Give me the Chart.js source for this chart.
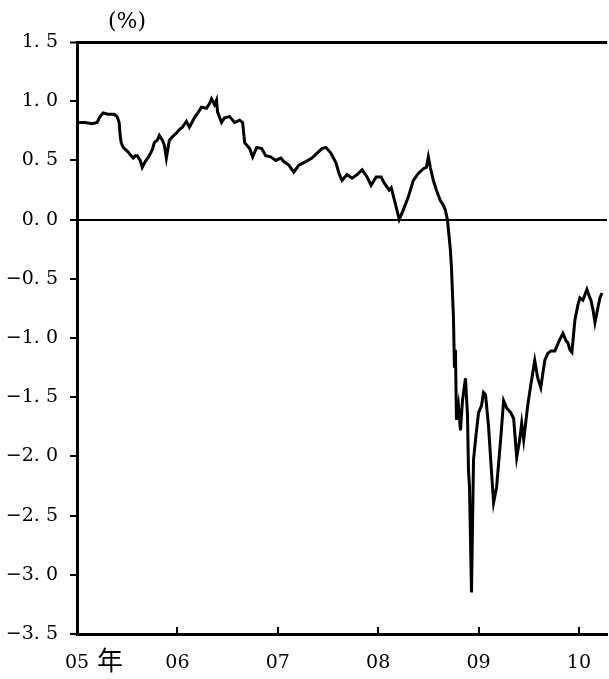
<!DOCTYPE html>
<html>
<head>
<meta charset="utf-8">
<script src="https://cdn.jsdelivr.net/npm/chart.js@4.4.1/dist/chart.umd.min.js"></script>
<style>
  html, body { margin: 0; padding: 0; background: #fff; }
  #chart { display: block; }
</style>
</head>
<body>
<canvas id="chart" width="609" height="679"></canvas>
<script>
// decimal years of each reading
const dates = [
  2005.00, 2005.08, 2005.15, 2005.20, 2005.23, 2005.26, 2005.31, 2005.37, 2005.40, 2005.42,
  2005.43, 2005.44, 2005.46, 2005.51, 2005.54, 2005.56, 2005.58, 2005.60, 2005.63, 2005.65,
  2005.68, 2005.72, 2005.75, 2005.77, 2005.80, 2005.82, 2005.85, 2005.87, 2005.89, 2005.92,
  2005.95, 2005.99, 2006.02, 2006.05, 2006.09, 2006.12, 2006.17, 2006.21, 2006.24, 2006.29,
  2006.32, 2006.34, 2006.37, 2006.39, 2006.40, 2006.44, 2006.47, 2006.52, 2006.57, 2006.62,
  2006.65, 2006.67, 2006.72, 2006.75, 2006.79, 2006.84, 2006.88, 2006.93, 2006.98, 2007.03,
  2007.06, 2007.11, 2007.16, 2007.21, 2007.28, 2007.34, 2007.39, 2007.44, 2007.48, 2007.53,
  2007.58, 2007.61, 2007.64, 2007.69, 2007.74, 2007.79, 2007.84, 2007.89, 2007.93, 2007.98,
  2008.03, 2008.06, 2008.11, 2008.13, 2008.17, 2008.21, 2008.25, 2008.30, 2008.35, 2008.40,
  2008.45, 2008.48, 2008.50, 2008.52, 2008.55, 2008.58, 2008.62, 2008.65, 2008.67, 2008.69,
  2008.71, 2008.72, 2008.73, 2008.75, 2008.76, 2008.77, 2008.78, 2008.80, 2008.82, 2008.84,
  2008.87, 2008.89, 2008.90, 2008.91, 2008.93, 2008.95, 2008.97, 2009.00, 2009.03, 2009.05,
  2009.07, 2009.10, 2009.13, 2009.15, 2009.18, 2009.22, 2009.25, 2009.28, 2009.32, 2009.35,
  2009.38, 2009.41, 2009.43, 2009.45, 2009.49, 2009.52, 2009.56, 2009.59, 2009.62, 2009.66,
  2009.69, 2009.72, 2009.76, 2009.80, 2009.84, 2009.87, 2009.89, 2009.91, 2009.93, 2009.96,
  2009.99, 2010.01, 2010.04, 2010.08, 2010.10, 2010.12, 2010.14, 2010.16, 2010.19, 2010.21,
  2010.23
];

// percent values
const values = [
  0.82, 0.82, 0.81, 0.82, 0.87, 0.90, 0.89, 0.89, 0.87, 0.82,
  0.71, 0.65, 0.61, 0.57, 0.54, 0.52, 0.54, 0.54, 0.50, 0.44,
  0.49, 0.54, 0.59, 0.65, 0.67, 0.71, 0.67, 0.63, 0.52, 0.67,
  0.70, 0.73, 0.76, 0.78, 0.83, 0.78, 0.86, 0.91, 0.95, 0.94,
  0.98, 1.02, 0.97, 1.01, 0.91, 0.82, 0.86, 0.87, 0.82, 0.84,
  0.82, 0.65, 0.60, 0.53, 0.61, 0.60, 0.54, 0.53, 0.50, 0.52,
  0.49, 0.46, 0.40, 0.46, 0.49, 0.52, 0.56, 0.60, 0.61, 0.56,
  0.48, 0.39, 0.33, 0.38, 0.35, 0.38, 0.42, 0.36, 0.29, 0.36,
  0.36, 0.31, 0.25, 0.27, 0.14, 0.00, 0.08, 0.19, 0.33, 0.39,
  0.43, 0.44, 0.53, 0.44, 0.33, 0.25, 0.16, 0.12, 0.08, 0.00,
  -0.17, -0.26, -0.40, -0.82, -1.25, -1.10, -1.69, -1.57, -1.78, -1.53,
  -1.34, -1.65, -2.12, -2.26, -3.15, -2.03, -1.86, -1.63, -1.57, -1.46,
  -1.48, -1.75, -2.14, -2.39, -2.26, -1.86, -1.53, -1.59, -1.63, -1.68,
  -2.01, -1.86, -1.72, -1.86, -1.57, -1.40, -1.19, -1.34, -1.42, -1.19,
  -1.13, -1.11, -1.11, -1.03, -0.96, -1.02, -1.04, -1.10, -1.12, -0.85,
  -0.72, -0.66, -0.68, -0.59, -0.64, -0.68, -0.76, -0.87, -0.74, -0.66,
  -0.62
];

const yearTicks = [2005, 2006, 2007, 2008, 2009, 2010];
const unitLabel = "(%)";
const yearSuffix = "年";

const serif = "'DejaVu Serif', 'Liberation Serif', serif";

const extras = {
  id: "extras",
  afterDraw(chart) {
    const { ctx, scales } = chart;
    const x = scales.x;
    const y = scales.y;
    ctx.save();
    // inward ticks on the bottom axis
    ctx.strokeStyle = "#000";
    ctx.lineWidth = 2;
    yearTicks.slice(1).forEach((yr) => {
      const px = Math.round(x.getPixelForValue(yr));
      ctx.beginPath();
      ctx.moveTo(px, y.bottom);
      ctx.lineTo(px, y.bottom - 7);
      ctx.stroke();
    });
    // unit label and year suffix
    ctx.fillStyle = "#000";
    ctx.textBaseline = "middle";
    ctx.textAlign = "center";
    ctx.font = "22px " + serif;
    ctx.fillText(unitLabel, 127, 22);
    ctx.font = "26px 'Noto Sans CJK JP'";
    ctx.fillText(yearSuffix, x.getPixelForValue(2005) + 33, 660);
    ctx.restore();
  },
};

new Chart(document.getElementById("chart"), {
  type: "line",
  data: {
    datasets: [
      {
        data: dates.map((d, i) => ({ x: d, y: values[i] })),
        borderColor: "#000",
        borderWidth: 3,
        pointRadius: 0,
        tension: 0,
        fill: false,
      },
    ],
  },
  options: {
    responsive: false,
    animation: false,
    layout: { padding: { top: 42, right: 0, left: 0, bottom: 0 } },
    plugins: { legend: { display: false }, tooltip: { enabled: false } },
    scales: {
      x: {
        type: "linear",
        min: 2005,
        max: 2010.28,
        afterBuildTicks: (scale) => {
          scale.ticks = yearTicks.map((v) => ({ value: v }));
        },
        afterFit: (scale) => {
          scale.height = 45;
        },
        grid: { display: true, drawOnChartArea: false, drawTicks: false },
        border: { display: true, color: "#000", width: 3 },
        ticks: {
          color: "#000",
          padding: 18,
          maxRotation: 0,
          autoSkip: false,
          font: { family: serif, size: 19 },
          callback: (v) => String(v).slice(2),
        },
      },
      y: {
        min: -3.5,
        max: 1.5,
        afterFit: (scale) => {
          scale.width = 77;
        },
        grid: {
          drawOnChartArea: true,
          tickLength: 7,
          tickColor: "#000",
          tickWidth: 2,
          color: (c) => (c.tick && (c.tick.value === 0 || c.tick.value === 1.5) ? "#000" : "rgba(0,0,0,0)"),
          lineWidth: (c) => (c.tick && c.tick.value === 1.5 ? 3 : 2),
        },
        border: { display: true, color: "#000", width: 3 },
        ticks: {
          stepSize: 0.5,
          color: "#000",
          padding: 12,
          font: { family: serif, size: 19 },
          callback: (v) => {
            const s = Math.abs(v).toFixed(1).replace(".", ". ");
            return v < 0 ? "\u2212" + s : s;
          },
        },
      },
    },
  },
  plugins: [extras],
});
</script>
</body>
</html>
